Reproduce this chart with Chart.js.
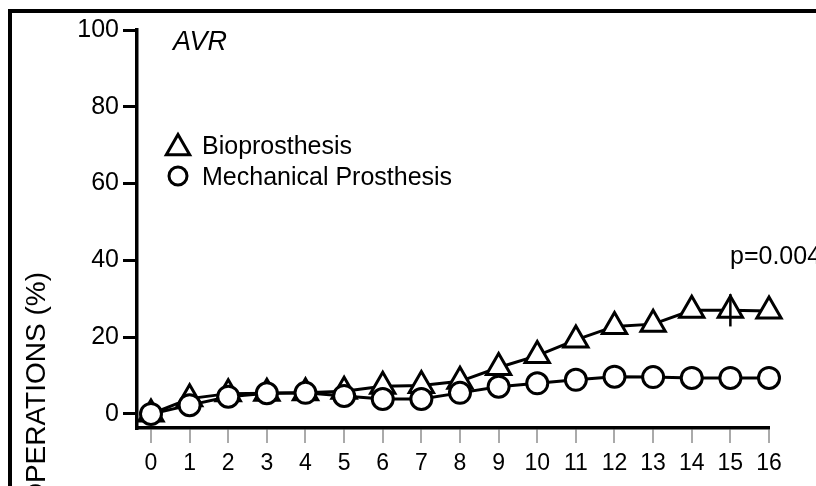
<!DOCTYPE html>
<html>
<head>
<meta charset="utf-8">
<script src="https://cdn.jsdelivr.net/npm/chart.js@4/dist/chart.umd.min.js"></script>
<style>
  html, body { margin: 0; padding: 0; background: #fff; }
  #wrap { position: relative; width: 816px; height: 486px; }
</style>
</head>
<body>
<div id="wrap"><canvas id="chart" width="816" height="486"></canvas></div>
<script>
/* ── Datos ── */
const years   = [0, 1, 2, 3, 4, 5, 6, 7, 8, 9, 10, 11, 12, 13, 14, 15, 16];
const bio     = [0, 4.0, 5.3, 5.4, 5.5, 5.9, 7.2, 7.4, 8.5, 12.1, 15.2, 19.3, 22.8, 23.4, 27.0, 27.0, 26.8];
const mech    = [0, 2.3, 4.5, 5.4, 5.5, 4.7, 3.9, 3.9, 5.5, 7.1, 8.0, 8.9, 9.7, 9.6, 9.4, 9.4, 9.4];
const bioErr  = [null, null, null, null, null, null, null, null, null, null, null, null, null, null, null, 4.2, null];
const yTicks  = [0, 20, 40, 60, 80, 100];
const panelTitle = "AVR";
const pText      = "p=0.004";
const yTitle     = "REOPERATIONS (%)";

const FONT = "'Liberation Sans', Arial, Helvetica, sans-serif";

/* ── Decoración: marco, textos, leyenda, barra de error ── */
const decor = {
  id: "decor",
  beforeDraw(chart) {
    const c = chart.ctx;
    c.save();
    c.fillStyle = "#fff";
    c.fillRect(0, 0, chart.width, chart.height);
    c.restore();
  },
  afterDatasetsDraw(chart) {
    const c = chart.ctx;
    const xs = chart.scales.x, ys = chart.scales.y;

    // barra de error
    c.save();
    c.strokeStyle = "#000";
    c.lineWidth = 2.5;
    bioErr.forEach((e, i) => {
      if (e == null) return;
      const px = xs.getPixelForValue(years[i]);
      c.beginPath();
      c.moveTo(px, ys.getPixelForValue(bio[i] + e));
      c.lineTo(px, ys.getPixelForValue(bio[i] - e));
      c.stroke();
    });
    c.restore();
  },
  afterDraw(chart) {
    const c = chart.ctx;
    c.save();

    // marco
    c.fillStyle = "#000";
    c.fillRect(8, 9, chart.width - 8, 4);
    c.fillRect(8, 9, 4, chart.height - 9);

    // título del panel
    c.fillStyle = "#000";
    c.textBaseline = "alphabetic";
    c.textAlign = "left";
    c.font = "italic 27px " + FONT;
    c.fillText(panelTitle, 173, 50);

    // valor p
    c.font = "25px " + FONT;
    c.fillText(pText, 730, 264);

    // leyenda
    const ds = chart.data.datasets;
    const rows = [
      { d: ds[0], y: 148, ty: 154 },
      { d: ds[1], y: 176, ty: 185 },
    ];
    rows.forEach(r => {
      c.fillStyle = "#fff";
      c.strokeStyle = "#000";
      c.lineWidth = 3;
      Chart.helpers.drawPoint(c, {
        pointStyle: r.d.pointStyle,
        radius: r.d.pointStyle === "triangle" ? 13.5 : 9,
        borderWidth: 3,
        rotation: 0,
      }, 178, r.y);
      c.fillStyle = "#000";
      c.font = "25px " + FONT;
      c.fillText(r.d.label, 202, r.ty);
    });

    // título eje Y
    c.translate(45, 272);
    c.rotate(-Math.PI / 2);
    c.textAlign = "right";
    c.font = "28px " + FONT;
    c.fillText(yTitle, 0, 0);

    c.restore();
  },
};

/* ── Gráfica ── */
const ctx = document.getElementById("chart").getContext("2d");
new Chart(ctx, {
  type: "line",
  data: {
    datasets: [
      {
        label: "Bioprosthesis",
        data: years.map((x, i) => ({ x, y: bio[i] })),
        borderColor: "#000",
        borderWidth: 3,
        pointStyle: "triangle",
        pointRadius: 14,
        pointBackgroundColor: "#fff",
        pointBorderColor: "#000",
        pointBorderWidth: 3,
        tension: 0,
        clip: false,
        order: 1,
      },
      {
        label: "Mechanical Prosthesis",
        data: years.map((x, i) => ({ x, y: mech[i] })),
        borderColor: "#000",
        borderWidth: 3,
        pointStyle: "circle",
        pointRadius: 10.5,
        pointBackgroundColor: "#fff",
        pointBorderColor: "#000",
        pointBorderWidth: 3,
        tension: 0,
        clip: false,
        order: 0,
      },
    ],
  },
  options: {
    responsive: false,
    animation: false,
    devicePixelRatio: 1,
    layout: { padding: { top: 30, right: 47, bottom: 0, left: 0 } },
    plugins: { legend: { display: false }, tooltip: { enabled: false } },
    scales: {
      x: {
        type: "linear",
        min: -0.362, max: 16,
        afterBuildTicks: s => { s.ticks = years.map(v => ({ value: v })); },
        afterFit: s => { s.height = 58; },
        grid: { drawOnChartArea: false, drawTicks: true, tickLength: 15, color: "#aaa", lineWidth: 2 },
        border: { display: true, color: "#000", width: 3.5 },
        ticks: { color: "#000", font: { family: FONT, size: 23 }, padding: 7, autoSkip: false, maxRotation: 0 },
      },
      y: {
        min: -3.65, max: 100,
        afterBuildTicks: s => { s.ticks = yTicks.map(v => ({ value: v })); },
        afterFit: s => { s.width = 137; },
        grid: { drawOnChartArea: false, drawTicks: true, tickLength: 14, color: "#000", lineWidth: 3 },
        border: { display: true, color: "#000", width: 3.5 },
        ticks: { color: "#000", font: { family: FONT, size: 25 }, padding: 4 },
      },
    },
  },
  plugins: [decor],
});
</script>
</body>
</html>
